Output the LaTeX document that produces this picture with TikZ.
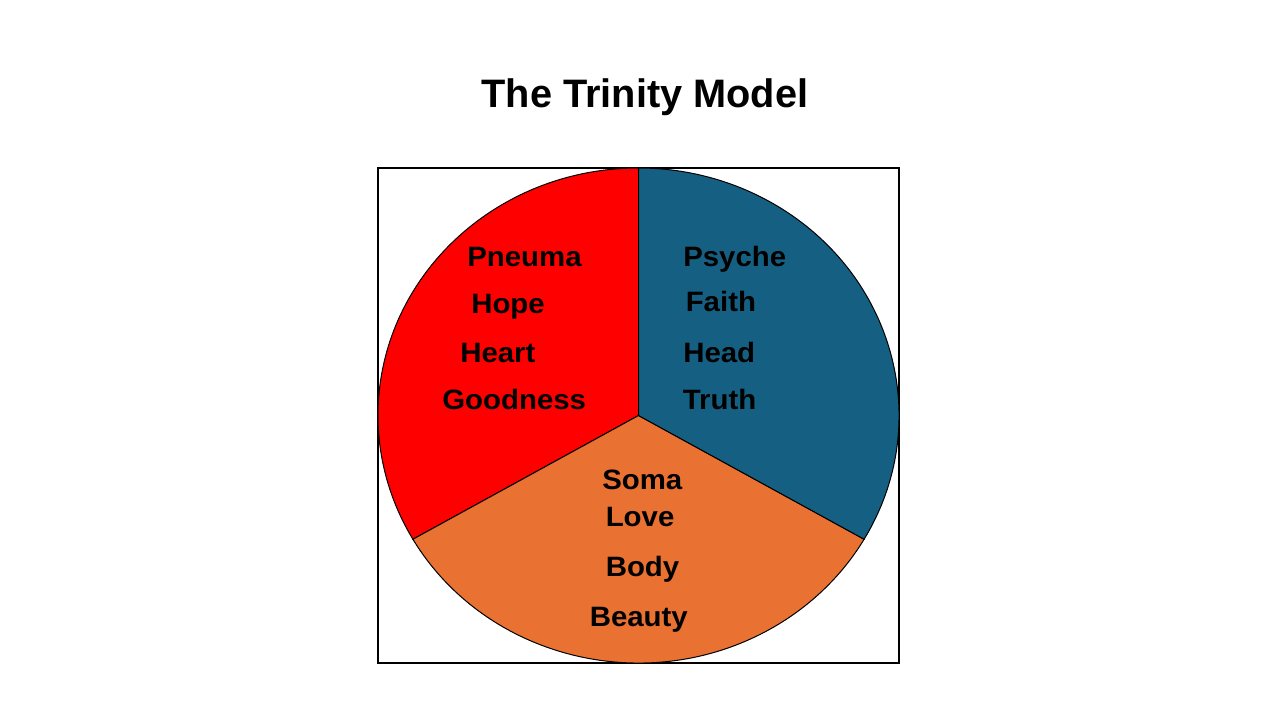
\documentclass[tikz,border=0pt]{standalone}
\usepackage{fontspec}
\setmainfont{Liberation Sans}
\newfontfamily\wordfont[FakeStretch=1.05]{Liberation Sans}
\definecolor{pneumaRed}{HTML}{FF0000}
\definecolor{psycheBlue}{HTML}{156082}
\definecolor{somaOrange}{HTML}{E97132}

\begin{document}
\begin{tikzpicture}
[x=0.75pt,y=-0.75pt,
  wedgeDecorate/.style={draw=black,line width=0.75pt},
  wordDecorate/.style={anchor=base west,inner sep=0pt,
    font=\wordfont\bfseries\fontsize{21}{25}\selectfont}]
\useasboundingbox (0,0) rectangle (1280,720);
%% title
\node (title) at (645,107.3) [anchor=base,inner sep=0pt,
  font=\bfseries\fontsize{29.8}{34}\selectfont] {The Trinity Model};
%% frame and centre of the pie
\draw[line width=1.1pt] (378,168) rectangle (899,663);
\coordinate (ctr) at (638.5,415.5);
%% sectors
\foreach \col/\a/\b in {
  pneumaRed/90/210, somaOrange/210/330, psycheBlue/330/450}
{
  \filldraw[fill=\col,wedgeDecorate] (ctr) -- ++(\a:195.375pt and 185.625pt)
    arc[start angle=\a,end angle=\b,x radius=195.375pt,y radius=185.625pt]
    -- cycle;
}
%% words in the sectors
\foreach \nodename/\x/\y in {
  Pneuma/467/266, Hope/471/313.3, Heart/460/362.7, Goodness/442/409,
  Psyche/683/266, Faith/685.5/311.7, Head/683/362.7, Truth/682.5/409,
  Soma/602/489.3, Love/605.5/526, Body/605.5/576.7, Beauty/589.5/626.7}
{
  \node (\nodename) at (\x,\y) [wordDecorate] {\nodename};
}
\end{tikzpicture}
\end{document}
